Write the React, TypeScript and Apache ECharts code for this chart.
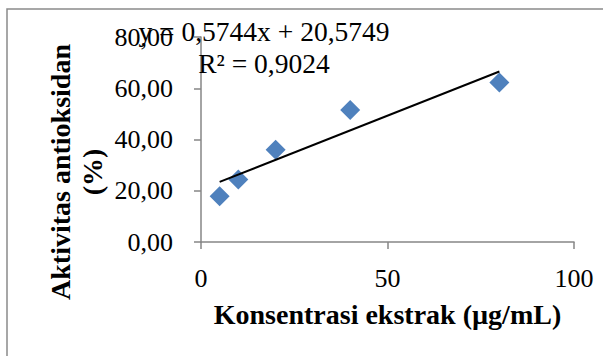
import React, { useEffect, useRef } from "react";
import * as echarts from "echarts";

const concentrations = [5, 10, 20, 40, 80];
const activities = [17.9, 24.4, 36, 51.5, 62.2];
const slope = 0.5744;
const intercept = 20.5749;
const rSquared = 0.9024;
const xTicks = [0, 50, 100];
const yTicks = [0, 20, 40, 60, 80];
const xTitle = "Konsentrasi ekstrak (µg/mL)";
const yTitle = "Aktivitas antioksidan\n(%)";

const FONT = "Liberation Serif, Times New Roman, serif";

const fmt = (v: number, d: number) => v.toFixed(d).replace(".", ",");

export default function App() {
  const ref = useRef<HTMLDivElement>(null);
  useEffect(() => {
    if (!ref.current) return;
    const chart = echarts.init(ref.current, undefined, { renderer: "svg" });
    const xMin = Math.min(...concentrations);
    const xMax = Math.max(...concentrations);
    const trend = [
      [xMin, intercept + slope * xMin],
      [xMax, intercept + slope * xMax],
    ];
    chart.setOption({
      animation: false,
      backgroundColor: "#ffffff",
      grid: { left: 201, right: 29, top: 37, bottom: 114, containLabel: false },
      xAxis: {
        type: "value",
        min: xTicks[0],
        max: xTicks[xTicks.length - 1],
        interval: xTicks[1] - xTicks[0],
        name: xTitle,
        nameLocation: "middle",
        nameGap: 58,
        nameTextStyle: { fontFamily: FONT, fontSize: 28, fontWeight: "bold", color: "#000" },
        axisLine: { show: true, lineStyle: { color: "#868686", width: 1.5 } },
        axisTick: { show: true, inside: false, length: 7, lineStyle: { color: "#868686", width: 1.5 } },
        axisLabel: { fontFamily: FONT, fontSize: 26, color: "#000", margin: 23 },
        splitLine: { show: false },
      },
      yAxis: {
        type: "value",
        min: yTicks[0],
        max: yTicks[yTicks.length - 1],
        interval: yTicks[1] - yTicks[0],
        axisLine: { show: true, lineStyle: { color: "#868686", width: 1.5 } },
        axisTick: { show: true, inside: false, length: 7, lineStyle: { color: "#868686", width: 1.5 } },
        axisLabel: {
          fontFamily: FONT,
          fontSize: 26,
          color: "#000",
          margin: 28,
          formatter: (v: number) => fmt(v, 2),
        },
        splitLine: { show: false },
      },
      graphic: [
        {
          type: "rect",
          shape: { x: 7, y: 9, width: 800, height: 600 },
          style: { fill: "none", stroke: "#8a8a8a", lineWidth: 1.5 },
          silent: true,
          z: 0,
        },
        {
          type: "text",
          x: 76,
          y: 172,
          rotation: Math.PI / 2,
          style: {
            text: yTitle,
            fontFamily: FONT,
            fontSize: 28,
            fontWeight: "bold",
            fill: "#000",
            align: "center",
            verticalAlign: "middle",
            lineHeight: 32,
          },
          z: 10,
        },
        {
          type: "text",
          x: 264,
          y: 47,
          style: {
            text: `y = ${fmt(slope, 4)}x + ${fmt(intercept, 4)}\nR² = ${fmt(rSquared, 4)}`,
            fontFamily: FONT,
            fontSize: 27.5,
            fill: "#000",
            align: "center",
            verticalAlign: "middle",
            lineHeight: 32,
          },
          z: 10,
        },
      ],
      series: [
        {
          type: "scatter",
          data: concentrations.map((c, i) => [c, activities[i]]),
          symbol: "diamond",
          symbolSize: 20,
          itemStyle: { color: "#4F81BD", opacity: 1 },
          z: 2,
        },
        {
          type: "line",
          data: trend,
          symbol: "none",
          lineStyle: { color: "#000", width: 2 },
          z: 3,
        },
      ],
    });
    return () => chart.dispose();
  }, []);
  return (
    <div
      ref={ref}
      style={{ position: "absolute", left: 0, top: 0, width: 603, height: 356 }}
    />
  );
}
